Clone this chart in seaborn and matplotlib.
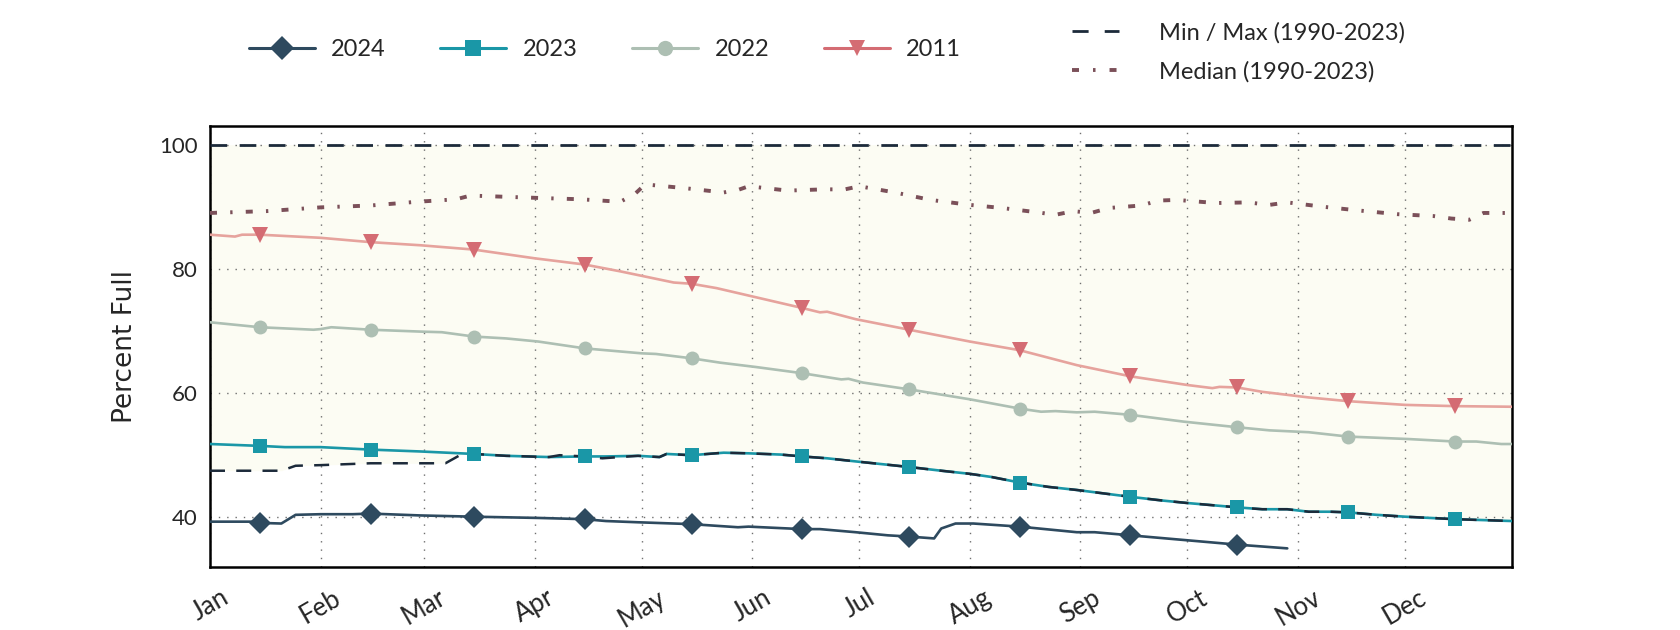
import matplotlib
matplotlib.use("Agg")
import matplotlib.pyplot as plt
from matplotlib.lines import Line2D
import seaborn as sns

# Reservoir storage, percent full, by day of year (leap-year calendar)
month_starts = [1, 32, 61, 92, 122, 153, 183, 214, 245, 275, 306, 336]
month_labels = ["Jan", "Feb", "Mar", "Apr", "May", "Jun", "Jul", "Aug", "Sep", "Oct", "Nov", "Dec"]
marker_days = [15, 46, 75, 106, 136, 167, 197, 228, 259, 289, 320, 350]

days_2024 = [1, 13, 15, 21, 25, 32, 41, 46, 60, 75, 93, 106, 112, 121, 136, 149, 152, 167, 172, 182,
             191, 197, 204, 206, 210, 215, 228, 244, 249, 259, 289, 303]
pct_2024 = [39.3, 39.3, 39.1, 39.0, 40.4, 40.5, 40.5, 40.6, 40.3, 40.1, 39.9, 39.7, 39.4, 39.2, 38.9, 38.4,
            38.5, 38.1, 38.1, 37.6, 37.1, 36.9, 36.6, 38.2, 39.0, 39.0, 38.5, 37.6, 37.6, 37.1, 35.6, 35.0]

days_2023 = [1, 15, 22, 32, 46, 60, 75, 84, 96, 106, 112, 121, 127, 129, 136, 145, 152, 161, 167, 174,
             182, 197, 206, 214, 220, 228, 236, 244, 259, 268, 275, 281, 289, 296, 303, 309, 315, 320,
             328, 336, 350, 366]
pct_2023 = [51.8, 51.5, 51.3, 51.3, 50.9, 50.6, 50.2, 49.9, 49.7, 49.8, 49.8, 49.9, 49.7, 50.2, 50.0,
            50.4, 50.3, 50.1, 49.8, 49.5, 49.0, 48.1, 47.5, 47.0, 46.5, 45.6, 44.9, 44.4, 43.3, 42.7,
            42.3, 42.0, 41.6, 41.3, 41.3, 40.9, 40.9, 40.8, 40.4, 40.1, 39.7, 39.4]

days_2022 = [1, 15, 30, 32, 35, 46, 60, 66, 75, 84, 93, 106, 112, 122, 126, 136, 144, 154, 167, 178,
             180, 184, 197, 214, 228, 234, 238, 244, 249, 259, 274, 289, 298, 309, 320, 337, 350, 356,
             363, 366]
pct_2022 = [71.4, 70.6, 70.2, 70.3, 70.6, 70.2, 69.9, 69.8, 69.1, 68.8, 68.3, 67.2, 66.9, 66.4, 66.3,
            65.6, 64.9, 64.2, 63.2, 62.2, 62.3, 61.7, 60.6, 59.0, 57.5, 57.0, 57.1, 56.9, 57.0, 56.5,
            55.4, 54.5, 54.0, 53.7, 53.0, 52.6, 52.2, 52.2, 51.8, 51.8]

days_2011 = [1, 8, 10, 15, 32, 46, 60, 75, 92, 106, 116, 121, 131, 136, 143, 152, 167, 172, 174, 182,
             197, 214, 228, 244, 259, 275, 282, 284, 289, 296, 309, 320, 336, 350, 366]
pct_2011 = [85.5, 85.2, 85.5, 85.5, 85.0, 84.3, 83.8, 83.1, 81.7, 80.7, 79.6, 79.0, 77.8, 77.6, 76.9,
            75.7, 73.7, 73.0, 73.1, 71.9, 70.2, 68.3, 66.9, 64.5, 62.7, 61.3, 60.8, 61.0, 60.9, 60.2,
            59.3, 58.7, 58.1, 57.9, 57.8]

days_median = [1, 17, 32, 46, 59, 70, 74, 84, 94, 105, 116, 120, 123, 134, 145, 149, 152, 163, 173, 179,
               183, 193, 203, 214, 223, 233, 238, 243, 248, 253, 262, 267, 272, 283, 292, 298, 303, 313,
               323, 334, 344, 349, 354, 358, 366]
pct_median = [89.0, 89.3, 89.9, 90.2, 90.8, 91.2, 91.8, 91.6, 91.4, 91.2, 90.8, 92.0, 93.6, 93.0, 92.3,
              92.7, 93.3, 92.6, 92.8, 92.8, 93.3, 92.3, 91.1, 90.3, 89.8, 89.1, 88.7, 89.3, 89.0, 89.8,
              90.2, 91.0, 91.1, 90.6, 90.7, 90.3, 90.7, 90.0, 89.4, 88.8, 88.5, 88.1, 87.9, 89.0, 89.0]

days_minmax = [1, 21, 25, 32, 46, 67, 72, 75, 84, 96, 99, 106, 111, 121, 127, 129, 136, 145, 152, 161,
               167, 174, 182, 197, 206, 214, 220, 228, 236, 244, 259, 268, 275, 281, 289, 296, 303, 309,
               315, 320, 328, 336, 350, 366]
pct_min = [47.5, 47.5, 48.3, 48.4, 48.7, 48.7, 50.3, 50.2, 49.9, 49.7, 50.0, 49.8, 49.5, 49.9, 49.7,
           50.2, 50.0, 50.4, 50.3, 50.1, 49.8, 49.5, 49.0, 48.1, 47.5, 47.0, 46.5, 45.6, 44.9, 44.4,
           43.3, 42.7, 42.3, 42.0, 41.6, 41.3, 41.3, 40.9, 40.9, 40.8, 40.4, 40.1, 39.7, 39.4]
pct_max = [100.0] * len(days_minmax)

# colours
c2024 = "#2e4a5f"
c2023 = "#1a97a7"
c2022 = "#adbfb3"
c2011_line = "#e6a39d"
c2011_mark = "#d46c73"
c_minmax = "#1c2a3a"
c_median = "#7b5059"
c_fill = "#fcfcf3"

MAIN_FONT = ["Lato", "DejaVu Sans"]

sns.set_style("white")
plt.rcParams["font.family"] = MAIN_FONT

fig, ax = plt.subplots(figsize=(16.8, 6.3), dpi=100)
fig.subplots_adjust(left=0.125, right=0.9, top=0.8, bottom=0.1)

# envelope between historical min and max
ax.fill_between(days_minmax, pct_min, pct_max, color=c_fill, zorder=0, linewidth=0)

dash_minmax = (0, (6, 4.5))
dash_median = (0, (1.8, 3.4, 0.6, 3.4))


def every(days):
    return [days.index(d) for d in marker_days if d in days]


# 2011
sns.lineplot(x=days_2011, y=pct_2011, color=c2011_line, linewidth=1.9, ax=ax, zorder=3, legend=False)
sns.lineplot(x=days_2011, y=pct_2011, color=c2011_mark, linestyle="none", marker="v", markersize=11,
             markeredgewidth=0, markevery=every(days_2011), ax=ax, zorder=4, legend=False)
# 2022
sns.lineplot(x=days_2022, y=pct_2022, color=c2022, linewidth=1.9, marker="o", markersize=10,
             markeredgewidth=0, markevery=every(days_2022), ax=ax, zorder=3, legend=False)
# 2023 line, then the min line on top of it, then the markers
sns.lineplot(x=days_2023, y=pct_2023, color=c2023, linewidth=1.9, ax=ax, zorder=3, legend=False)
sns.lineplot(x=days_minmax, y=pct_min, color=c_minmax, linewidth=1.8, linestyle=dash_minmax,
             ax=ax, zorder=3.2, legend=False)
sns.lineplot(x=days_2023, y=pct_2023, color=c2023, linestyle="none", marker="s", markersize=10,
             markeredgewidth=0, markevery=every(days_2023), ax=ax, zorder=4, legend=False)
# 2024
sns.lineplot(x=days_2024, y=pct_2024, color=c2024, linewidth=1.9, marker="D", markersize=11,
             markeredgewidth=0, markevery=every(days_2024), ax=ax, zorder=4, legend=False)
# max and median
sns.lineplot(x=days_minmax, y=pct_max, color=c_minmax, linewidth=2.0, linestyle=dash_minmax,
             ax=ax, zorder=3, legend=False)
sns.lineplot(x=days_median, y=pct_median, color=c_median, linewidth=2.8, linestyle=dash_median,
             ax=ax, zorder=3, legend=False)

ax.set_xlim(1, 366)
ax.set_ylim(32, 103)
ax.set_xticks(month_starts)
ax.set_xticklabels(month_labels, rotation=30, ha="center")
ax.set_yticks([40, 60, 80, 100])
ax.tick_params(axis="both", length=0, labelsize=16)
ax.tick_params(axis="x", labelsize=18.5, pad=13)
ax.tick_params(axis="y", pad=9)
ax.set_xlabel("")
ax.set_ylabel("Percent Full", fontsize=19, family="DejaVu Sans")
ax.yaxis.set_label_coords(-0.055, 0.5)

ax.grid(True, color="#6f6f6f", linestyle=(0, (1, 5)), linewidth=1.0)
ax.set_axisbelow(True)
for sp in ax.spines.values():
    sp.set_visible(True)
    sp.set_color("black")
    sp.set_linewidth(1.8)

# legends
year_handles = [
    Line2D([], [], color=c2024, lw=2.2, marker="D", markersize=12, markeredgewidth=0),
    Line2D([], [], color=c2023, lw=2.2, marker="s", markersize=11, markeredgewidth=0),
    Line2D([], [], color=c2022, lw=2.2, marker="o", markersize=11, markeredgewidth=0),
    Line2D([], [], color=c2011_mark, lw=2.2, marker="v", markersize=12, markeredgewidth=0),
]
leg1 = fig.legend(year_handles, ["2024", "2023", "2022", "2011"], loc="center left",
                  bbox_to_anchor=(0.141, 0.921), ncol=4, frameon=False, fontsize=17,
                  handlelength=2.8, handletextpad=0.7, columnspacing=2.3, borderpad=0)

ref_handles = [
    Line2D([], [], color=c_minmax, lw=2.0, linestyle=(0, (5.8, 5.8))),
    Line2D([], [], color=c_median, lw=2.8, linestyle=(0, (1.8, 3.6, 0.65, 3.6))),
]
leg2 = fig.legend(ref_handles, ["Min / Max (1990-2023)", "Median (1990-2023)"], loc="center left",
                  bbox_to_anchor=(0.631, 0.917), ncol=1, frameon=False, fontsize=17,
                  handlelength=2.0, handletextpad=1.7, labelspacing=0.75, borderpad=0)

fig.savefig("out.png", dpi=100)
